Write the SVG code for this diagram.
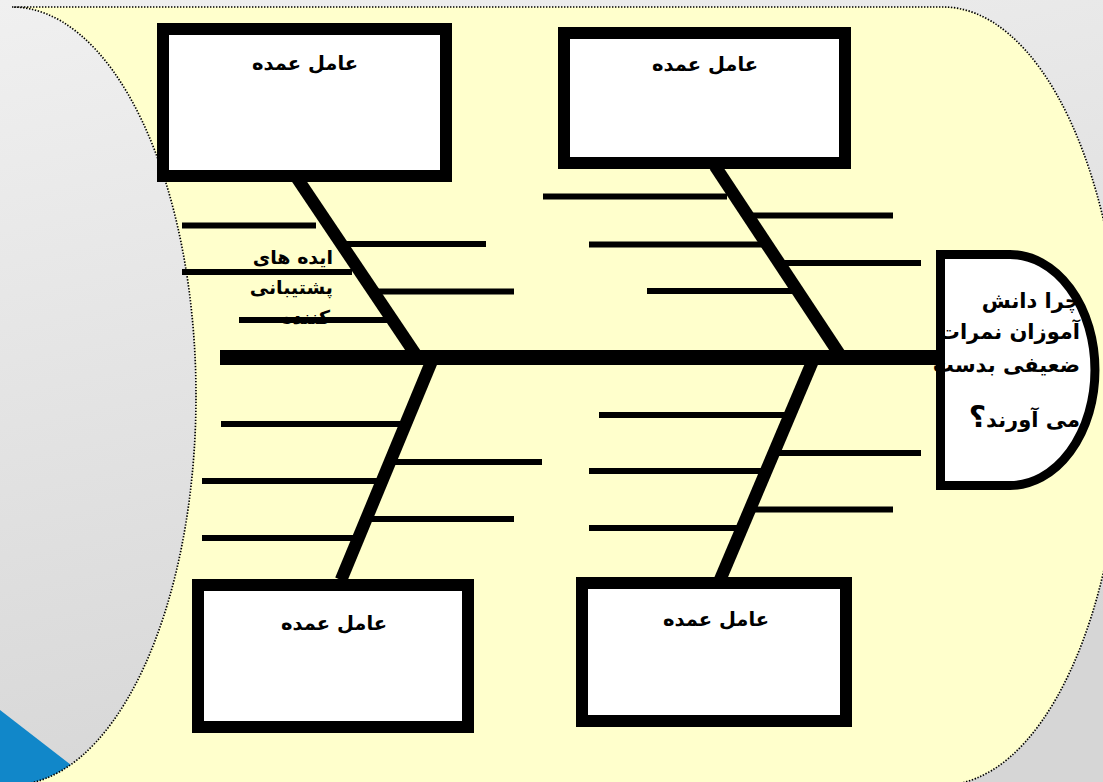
<svg xmlns="http://www.w3.org/2000/svg" width="1103" height="782" viewBox="0 0 1103 782">
  <defs>
    <linearGradient id="bg" x1="0" y1="0" x2="0.3" y2="1">
      <stop offset="0" stop-color="#f0f0f0"/>
      <stop offset="1" stop-color="#d6d6d6"/>
    </linearGradient>
    <style>
      .panel { fill: #ffffcc; stroke: #000; stroke-width: 1.7; stroke-dasharray: 1.4 1.6; }
      .box { fill: #fff; stroke: #000; stroke-width: 12; }
      .spine { stroke: #000; stroke-width: 15; fill: none; }
      .bone { stroke: #000; stroke-width: 12.5; fill: none; }
      .rib { stroke: #000; stroke-width: 6; fill: none; }
      .label { font-family: "DejaVu Sans", sans-serif; font-weight: bold; font-size: 19.5px; fill: #000; text-anchor: middle; direction: rtl; }
      .head-text { font-family: "DejaVu Sans", sans-serif; font-weight: bold; font-size: 21px; fill: #000; text-anchor: start; direction: rtl; }
      .note { font-family: "DejaVu Sans", sans-serif; font-weight: bold; font-size: 19px; fill: #000; text-anchor: start; direction: rtl; }
    </style>
  </defs>

  <!-- slide background -->
  <rect x="0" y="0" width="1103" height="782" fill="url(#bg)"/>
  <polygon points="0,710 93,782 0,782" fill="#1187c9"/>

  <!-- yellow panel with concave left side and convex right side -->
  <path class="panel" d="M12,7 L943,7 A180,389 0 0 1 943,785 L12,785 A184,389 0 0 0 12,7 Z"/>

  <!-- skeleton: spine, bones and ribs -->
  <g id="connectors">
    <line class="spine" x1="220" y1="357.5" x2="938" y2="357.5"/>

    <line class="bone" x1="297" y1="178" x2="418" y2="358"/>
    <line class="bone" x1="715" y1="166" x2="842" y2="358"/>
    <line class="bone" x1="433" y1="358" x2="341" y2="580"/>
    <line class="bone" x1="814" y1="358" x2="720" y2="580"/>

    <!-- upper left ribs -->
    <line class="rib" x1="182" y1="225.5" x2="316" y2="225.5"/>
    <line class="rib" x1="338" y1="244" x2="486" y2="244"/>
    <line class="rib" x1="182" y1="272" x2="352" y2="272"/>
    <line class="rib" x1="374" y1="291.5" x2="514" y2="291.5"/>
    <line class="rib" x1="239" y1="320" x2="392" y2="320"/>

    <!-- upper right ribs -->
    <line class="rib" x1="543" y1="196.5" x2="727" y2="196.5"/>
    <line class="rib" x1="746" y1="215.5" x2="893" y2="215.5"/>
    <line class="rib" x1="589" y1="244.5" x2="762" y2="244.5"/>
    <line class="rib" x1="779" y1="263" x2="921" y2="263"/>
    <line class="rib" x1="647" y1="291" x2="795" y2="291"/>

    <!-- lower left ribs -->
    <line class="rib" x1="221" y1="424" x2="405" y2="424"/>
    <line class="rib" x1="395" y1="462" x2="542" y2="462"/>
    <line class="rib" x1="202" y1="481" x2="381" y2="481"/>
    <line class="rib" x1="370" y1="519" x2="514" y2="519"/>
    <line class="rib" x1="202" y1="538" x2="356" y2="538"/>

    <!-- lower right ribs -->
    <line class="rib" x1="599" y1="415" x2="789" y2="415"/>
    <line class="rib" x1="778" y1="453" x2="921" y2="453"/>
    <line class="rib" x1="589" y1="471" x2="762" y2="471"/>
    <line class="rib" x1="752" y1="509.5" x2="893" y2="509.5"/>
    <line class="rib" x1="589" y1="528" x2="737" y2="528"/>
  </g>

  <g id="note-supporting-ideas">
    <text class="note" x="333" y="264">ایده های</text>
    <text class="note" x="333" y="294">پشتیبانی</text>
    <text class="note" x="330" y="324">کننده</text>
  </g>

  <g id="cause-top-left">
    <rect class="box" x="163" y="29" width="283" height="147"/>
    <text class="label" x="305" y="70">عامل عمده</text>
  </g>

  <g id="cause-top-right">
    <rect class="box" x="564" y="33" width="281" height="130"/>
    <text class="label" x="705" y="71">عامل عمده</text>
  </g>

  <g id="cause-bottom-left">
    <rect class="box" x="198" y="585" width="270" height="142"/>
    <text class="label" x="334" y="630">عامل عمده</text>
  </g>

  <g id="cause-bottom-right">
    <rect class="box" x="582" y="583" width="264" height="138"/>
    <text class="label" x="716" y="626">عامل عمده</text>
  </g>

  <g id="problem-head">
    <path d="M940.5,254.5 H1010 A85,115.5 0 0 1 1010,485.5 H940.5 Z" fill="#fff" stroke="#000" stroke-width="9"/>
    <text class="head-text" x="1080" y="308">چرا دانش</text>
    <text class="head-text" x="1080" y="339">آموزان نمرات</text>
    <text class="head-text" x="1080" y="372">ضعیفی بدست</text>
    <text class="head-text" x="1080" y="427">می آورند<tspan font-size="30px">؟</tspan></text>
  </g>
</svg>
